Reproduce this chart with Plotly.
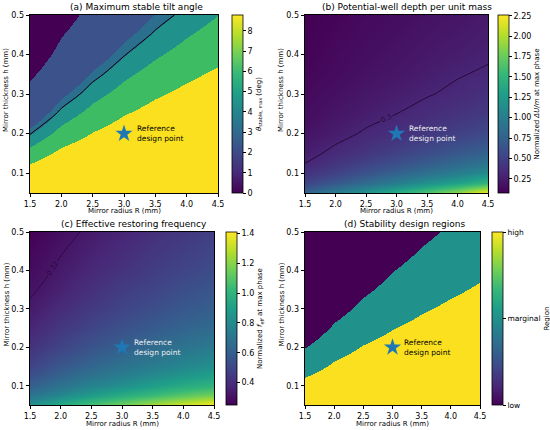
import plotly.graph_objects as go

# grid of mirror radius (mm) shared by all panels
R_mm = [1.5, 2.0, 2.5, 3.0, 3.5, 4.0, 4.5]

# (a) tilt margin field (deg) on a regular h grid, banded by the cuts below
h_a = [0.05, 0.10, 0.15, 0.20, 0.25, 0.30, 0.35, 0.40, 0.45, 0.50]
theta_a = [
    [9.89, 10.28, 10.52, 10.68, 10.79, 10.87, 10.94],
    [8.32, 9.11, 9.58, 9.89, 10.11, 10.28, 10.41],
    [6.75, 7.93, 8.63, 9.11, 9.44, 9.69, 9.89],
    [5.18, 6.75, 7.69, 8.32, 8.77, 9.11, 9.37],
    [3.61, 5.57, 6.75, 7.54, 8.10, 8.52, 8.84],
    [2.04, 4.40, 5.81, 6.75, 7.42, 7.93, 8.32],
    [0.47, 3.22, 4.87, 5.97, 6.75, 7.34, 7.80],
    [-1.10, 2.04, 3.92, 5.18, 6.08, 6.75, 7.27],
    [-2.67, 0.86, 2.98, 4.40, 5.40, 6.16, 6.75],
    [-4.24, -0.32, 2.04, 3.61, 4.73, 5.57, 6.23],
]
theta_cuts = [1.0, 4.68, 5.24, 6.23, 7.59]
theta_band_colors = ['#440154', '#3b528b', '#2c6e8e', '#21918c', '#3dbc64', '#fbe01f']
theta_line = 5.24
theta_cbar_max = 8.78
theta_lo, theta_hi = -5, 11

# (b), (c) smooth fields on a finer-at-bottom h grid
h_bc = [0.05, 0.075, 0.10, 0.125, 0.15, 0.20, 0.25, 0.30, 0.35, 0.40, 0.50]
well_depth = [
    [0.78, 1.00, 1.22, 1.45, 1.68, 1.92, 2.26],
    [0.52, 0.68, 0.84, 1.00, 1.17, 1.33, 1.52],
    [0.39, 0.51, 0.63, 0.76, 0.88, 1.00, 1.14],
    [0.30, 0.41, 0.51, 0.61, 0.71, 0.81, 0.91],
    [0.25, 0.34, 0.42, 0.51, 0.59, 0.68, 0.76],
    [0.19, 0.25, 0.32, 0.38, 0.44, 0.50, 0.57],
    [0.15, 0.20, 0.25, 0.30, 0.35, 0.40, 0.45],
    [0.13, 0.17, 0.21, 0.25, 0.29, 0.33, 0.38],
    [0.11, 0.14, 0.18, 0.21, 0.25, 0.29, 0.32],
    [0.09, 0.13, 0.16, 0.19, 0.22, 0.25, 0.28],
    [0.075, 0.10, 0.13, 0.15, 0.18, 0.20, 0.23],
]
f_eff = [
    [0.83, 0.96, 1.07, 1.16, 1.25, 1.33, 1.41],
    [0.69, 0.79, 0.88, 0.96, 1.03, 1.10, 1.16],
    [0.60, 0.69, 0.77, 0.83, 0.90, 0.96, 1.01],
    [0.54, 0.62, 0.69, 0.75, 0.81, 0.86, 0.91],
    [0.49, 0.57, 0.63, 0.69, 0.74, 0.79, 0.83],
    [0.42, 0.49, 0.55, 0.60, 0.65, 0.69, 0.73],
    [0.37, 0.44, 0.49, 0.54, 0.58, 0.62, 0.65],
    [0.335, 0.395, 0.45, 0.49, 0.53, 0.57, 0.60],
    [0.307, 0.36, 0.41, 0.46, 0.49, 0.53, 0.56],
    [0.284, 0.335, 0.38, 0.42, 0.46, 0.49, 0.52],
    [0.25, 0.295, 0.335, 0.37, 0.41, 0.44, 0.47],
]
well_level = 0.3
feff_level = 0.32

# (d) regions from the tilt field
region_cuts = [5.24, 7.59]
region_colors = ['#440154', '#21918c', '#fbe01f']
region_ticks = ['low', 'marginal', 'high']

ref_R = [3.0]
ref_h = [0.2]

FONT = 'DejaVu Sans'
W, H = 550, 430


def px(x):
    return x / W


def py(y):
    return 1 - y / H


def step_scale(cuts, colors, zmin, zmax):
    scale = [[0, colors[0]]]
    for c, lo, hi in zip(cuts, colors[:-1], colors[1:]):
        p = (c - zmin) / (zmax - zmin)
        scale += [[p, lo], [p, hi]]
    scale.append([1, colors[-1]])
    return scale


# panel boxes in pixels: plot left/right/top/bottom, colorbar left
boxes = [
    (30, 218, 15, 193, 232),
    (305, 488, 15, 193, 498),
    (30, 214, 232, 405, 226),
    (305, 480, 232, 405, 492),
]
titles = ['(a) Maximum stable tilt angle', '(b) Potential-well depth per unit mass',
          '(c) Effective restoring frequency', '(d) Stability design regions']
cb_titles = ['<i>θ</i><sub>stable, max</sub> (deg)', 'Normalized <i>ΔU/m</i> at max phase',
             'Normalized <i>f</i><sub>eff</sub> at max phase', 'Region']
text_colors = ['black', '#f0f0f0', '#f0f0f0', 'black']

fig = go.Figure()


def cbar(i, **kw):
    l, r, t, b, cx = boxes[i]
    d = dict(x=px(cx), xanchor='left', y=py(t), yanchor='top', len=(b - t) / H,
             lenmode='fraction', thickness=11, xpad=0, ypad=0, outlinewidth=0.8,
             outlinecolor='black', ticks='outside', ticklen=3, tickcolor='black',
             tickfont=dict(family=FONT, size=8, color='black'),
             title=dict(text=cb_titles[i], side='right', font=dict(family=FONT, size=7, color='black')))
    d.update(kw)
    return d


# (a)
fig.add_trace(go.Heatmap(x=R_mm, y=h_a, z=theta_a, zsmooth='best', zmin=theta_lo, zmax=theta_hi,
                         colorscale=step_scale(theta_cuts, theta_band_colors, theta_lo, theta_hi),
                         showscale=False, hoverinfo='skip', xaxis='x', yaxis='y'))
fig.add_trace(go.Contour(x=R_mm, y=h_a, z=theta_a, autocontour=False,
                         contours=dict(start=theta_line, end=theta_line, size=1, coloring='none'),
                         line=dict(color='black', width=1), showscale=False, hoverinfo='skip',
                         xaxis='x', yaxis='y'))
fig.add_trace(go.Scatter(x=ref_R, y=ref_h, mode='markers', hoverinfo='skip', showlegend=False,
                         marker=dict(color=[0], cmin=0, cmax=theta_cbar_max, colorscale='Viridis',
                                     showscale=True, opacity=0,
                                     colorbar=cbar(0, tickvals=list(range(9)))),
                         xaxis='x', yaxis='y'))

# (b)
fig.add_trace(go.Heatmap(x=R_mm, y=h_bc, z=well_depth, zsmooth='best', zmin=0.075, zmax=2.26,
                         colorscale='Viridis', hoverinfo='skip', xaxis='x2', yaxis='y2',
                         colorbar=cbar(1, tickvals=[0.25, 0.5, 0.75, 1.0, 1.25, 1.5, 1.75, 2.0, 2.25],
                                       tickformat='.2f')))
fig.add_trace(go.Contour(x=R_mm, y=h_bc, z=well_depth, autocontour=False,
                         contours=dict(start=well_level, end=well_level, size=1, coloring='none',
                                       showlabels=True,
                                       labelfont=dict(family=FONT, size=7, color='rgba(30,0,40,0.85)')),
                         line=dict(color='rgba(30,0,40,0.85)', width=0.9), showscale=False,
                         hoverinfo='skip', xaxis='x2', yaxis='y2'))

# (c)
fig.add_trace(go.Heatmap(x=R_mm, y=h_bc, z=f_eff, zsmooth='best', zmin=0.25, zmax=1.41,
                         colorscale='Viridis', hoverinfo='skip', xaxis='x3', yaxis='y3',
                         colorbar=cbar(2, tickvals=[0.4, 0.6, 0.8, 1.0, 1.2, 1.4], tickformat='.1f')))
fig.add_trace(go.Contour(x=R_mm, y=h_bc, z=f_eff, autocontour=False,
                         contours=dict(start=feff_level, end=feff_level, size=1, coloring='none',
                                       showlabels=True, labelformat='.2f',
                                       labelfont=dict(family=FONT, size=7, color='rgba(30,0,40,0.7)')),
                         line=dict(color='rgba(30,0,40,0.6)', width=0.9), showscale=False,
                         hoverinfo='skip', xaxis='x3', yaxis='y3'))

# (d)
fig.add_trace(go.Heatmap(x=R_mm, y=h_a, z=theta_a, zsmooth='best', zmin=theta_lo, zmax=theta_hi,
                         colorscale=step_scale(region_cuts, region_colors, theta_lo, theta_hi),
                         showscale=False, hoverinfo='skip', xaxis='x4', yaxis='y4'))
fig.add_trace(go.Scatter(x=ref_R, y=ref_h, mode='markers', hoverinfo='skip', showlegend=False,
                         marker=dict(color=[0], cmin=0, cmax=1, colorscale='Viridis',
                                     showscale=True, opacity=0,
                                     colorbar=cbar(3, tickvals=[0, 0.5, 1], ticktext=region_ticks,
                                                   tickfont=dict(family=FONT, size=7.5, color='black'))),
                         xaxis='x4', yaxis='y4'))

# reference design point on every panel
for i in range(4):
    sfx = '' if i == 0 else str(i + 1)
    fig.add_trace(go.Scatter(x=ref_R, y=ref_h, mode='markers', hoverinfo='skip', showlegend=False,
                             marker=dict(symbol='star', size=13, color='#1f77b4', line=dict(width=0)),
                             xaxis='x' + sfx, yaxis='y' + sfx))
    fig.add_annotation(x=ref_R[0] + 0.17, y=ref_h[0], xref='x' + sfx, yref='y' + sfx,
                       text='Reference<br>design point', showarrow=False, xanchor='left',
                       yanchor='middle', align='left',
                       font=dict(family=FONT, size=7.5, color=text_colors[i]))

axis_common = dict(showline=True, mirror=True, linecolor='black', linewidth=0.8, ticks='outside',
                   ticklen=3.5, tickcolor='black', tickwidth=0.8, showgrid=False, zeroline=False,
                   tickfont=dict(family=FONT, size=8, color='black'))

layout = {}
for i, (l, r, t, b, cx) in enumerate(boxes):
    sfx = '' if i == 0 else str(i + 1)
    layout['xaxis' + sfx] = dict(axis_common, domain=[px(l), px(r)], range=[1.5, 4.5], tick0=1.5,
                                 dtick=0.5, tickformat='.1f', anchor='y' + sfx)
    layout['yaxis' + sfx] = dict(axis_common, domain=[py(b), py(t)], range=[0.05, 0.5],
                                 tick0=0, dtick=0.1, tickformat='.1f', anchor='x' + sfx)
    # panel title centred over plot + colorbar
    fig.add_annotation(x=px((l + cx + 11) / 2), y=py(t - 8), xref='paper', yref='paper',
                       text=titles[i], showarrow=False, xanchor='center', yanchor='middle',
                       font=dict(family=FONT, size=9, color='black'))
    fig.add_annotation(x=px((l + r) / 2), y=py(b + 18.5), xref='paper', yref='paper',
                       text='Mirror radius R (mm)', showarrow=False, xanchor='center',
                       yanchor='middle', font=dict(family=FONT, size=7, color='black'))
    fig.add_annotation(x=px(l - 24), y=py((t + b) / 2 - 14), xref='paper', yref='paper',
                       text='Mirror thickness h (mm)', showarrow=False, textangle=-90,
                       xanchor='center', yanchor='middle',
                       font=dict(family=FONT, size=7, color='black'))

fig.update_layout(width=W, height=H, margin=dict(l=0, r=0, t=0, b=0, autoexpand=False),
                  paper_bgcolor='white', plot_bgcolor='white', showlegend=False,
                  font=dict(family=FONT), **layout)

# the page body has a default 8px margin; drop it so the figure fills the window
fig.write_html("out.html", config={'displayModeBar': False},
               post_script="document.body.style.margin='0px';")
